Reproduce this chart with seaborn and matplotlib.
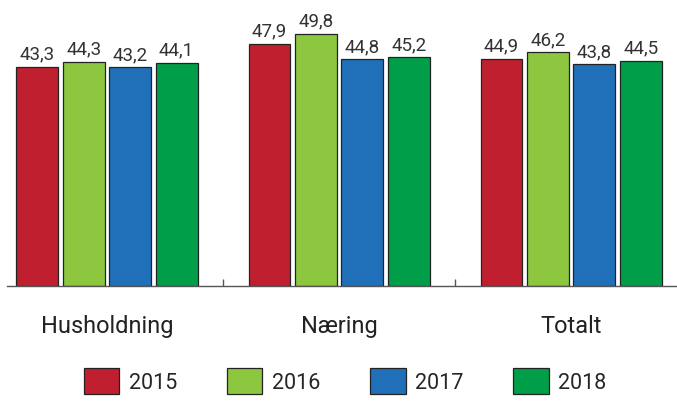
import numpy as np
import pandas as pd
import matplotlib
matplotlib.use("Agg")
import matplotlib.pyplot as plt
import seaborn as sns

categories = ["Husholdning", "Næring", "Totalt"]
years = ["2015", "2016", "2017", "2018"]
values = {
    "2015": [43.3, 47.9, 44.9],
    "2016": [44.3, 49.8, 46.2],
    "2017": [43.2, 44.8, 43.8],
    "2018": [44.1, 45.2, 44.5],
}
colors = ["#C01F2F", "#8DC63F", "#1F70B9", "#009E48"]

rows = []
for y in years:
    for c, v in zip(categories, values[y]):
        rows.append({"kategori": c, "aar": y, "verdi": v})
df = pd.DataFrame(rows)

sns.set_style("white")
plt.rcParams["font.family"] = ["Roboto", "DejaVu Sans"]

fig = plt.figure(figsize=(6.77, 4.02), dpi=100)
ax = fig.add_axes([0.0103, 0.286, 0.99, 0.714])

sns.barplot(data=df, x="kategori", y="verdi", hue="aar", palette=colors,
            width=0.8, gap=0.1, edgecolor="#222222", linewidth=0.9,
            saturation=1, ax=ax, legend=True)

for cont in ax.containers:
    ax.bar_label(cont, labels=[f"{v:.1f}".replace(".", ",") for v in cont.datavalues],
                 padding=3, fontsize=13.5, color="#333333")

ax.set_xlim(-0.431, 2.457)
ax.set_ylim(0, 56.7)
ax.set_xlabel("")
ax.set_ylabel("")
ax.set_yticks([])
for s in ["top", "right", "left"]:
    ax.spines[s].set_visible(False)
ax.spines["bottom"].set_color("#555555")
ax.spines["bottom"].set_linewidth(1.0)

ax.set_xticks([0, 1, 2])
ax.set_xticklabels(categories, fontsize=17, color="#222222")
ax.tick_params(axis="x", which="major", bottom=True, length=0, pad=20)
ax.set_xticks([0.5, 1.5], minor=True)
ax.tick_params(axis="x", which="minor", bottom=True, direction="in",
               length=5, width=1, color="#555555")

handles, labels = ax.get_legend_handles_labels()
ax.get_legend().remove()
fig.legend(handles, labels, loc="center", bbox_to_anchor=(0.51, 0.05), ncol=4,
           frameon=False, fontsize=15.5, handlelength=1.65, handleheight=1.45,
           handletextpad=0.45, columnspacing=2.3)

fig.savefig("out.png", dpi=100)
